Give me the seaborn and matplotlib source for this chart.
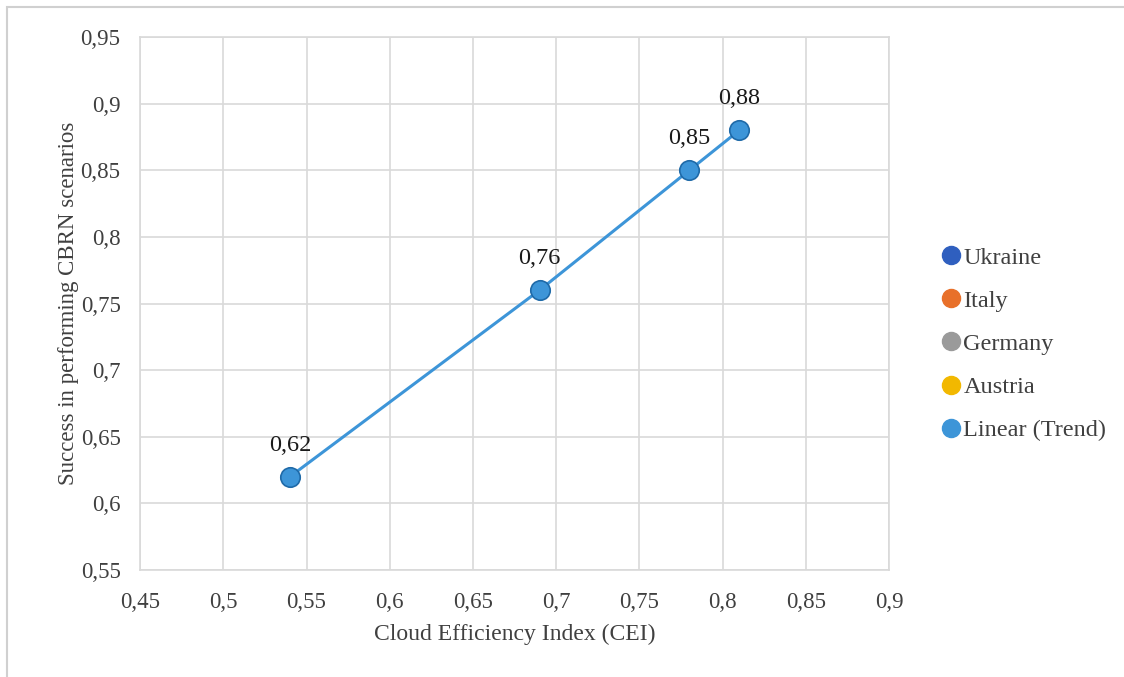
import matplotlib
matplotlib.use("Agg")
import matplotlib.pyplot as plt
import seaborn as sns
import pandas as pd
from matplotlib.lines import Line2D
from matplotlib.patches import Rectangle
from matplotlib.ticker import FuncFormatter

# Data
cei = [0.54, 0.69, 0.78, 0.81]
success = [0.62, 0.76, 0.85, 0.88]
point_labels = ["0,62", "0,76", "0,85", "0,88"]
legend_names = ["Ukraine", "Italy", "Germany", "Austria", "Linear (Trend)"]
legend_colors = ["#2f5fbf", "#e8702a", "#9a9a9a", "#f2b800", "#3d95d8"]

df = pd.DataFrame({"cei": cei, "success": success})

sns.set_style("white")
plt.rcParams["font.family"] = ["Liberation Serif", "DejaVu Serif"]

fig = plt.figure(figsize=(11.24, 6.77), dpi=100)
ax = fig.add_axes([0.1246, 0.158, 0.6664, 0.7873])

trend = "#3d95d8"
sns.lineplot(data=df, x="cei", y="success", ax=ax, color=trend, linewidth=2.2,
             marker="o", markersize=14, markeredgecolor="#1f6aa8",
             markeredgewidth=1.2, zorder=3)

# data labels above each point
for x, y, lab in zip(cei, success, point_labels):
    ax.annotate(lab, (x, y), xytext=(0, 15), textcoords="offset points",
                ha="center", va="bottom", fontsize=17.5, color="#1a1a1a")

ax.set_xlim(0.45, 0.9)
ax.set_ylim(0.55, 0.95)
ax.set_xticks([0.45, 0.5, 0.55, 0.6, 0.65, 0.7, 0.75, 0.8, 0.85, 0.9])
ax.set_yticks([0.55, 0.6, 0.65, 0.7, 0.75, 0.8, 0.85, 0.9, 0.95])
fmt = FuncFormatter(lambda v, p: ("%g" % round(v, 2)).replace(".", ","))
ax.xaxis.set_major_formatter(fmt)
ax.yaxis.set_major_formatter(fmt)
ax.tick_params(axis="x", labelsize=16.5, colors="#404040", length=0, pad=15.5)
ax.tick_params(axis="y", labelsize=16.5, colors="#404040", length=0, pad=14)
ax.grid(True, color="#d9d9d9", linewidth=1.2)
for s in ax.spines.values():
    s.set_color("#d9d9d9")
    s.set_linewidth(1.2)

ax.set_xlabel("Cloud Efficiency Index (CEI)", fontsize=17, color="#404040", labelpad=8)
ax.set_ylabel("Success in performing CBRN scenarios", fontsize=16.5, color="#404040", labelpad=1)

# legend
handles = [Line2D([0], [0], marker="o", linestyle="", markersize=13,
                  markerfacecolor=c, markeredgecolor=c, label=n)
           for n, c in zip(legend_names, legend_colors)]
fig.legend(handles=handles, loc="center left", bbox_to_anchor=(0.816, 0.492),
           frameon=False, fontsize=17.5, handlelength=1.0, handletextpad=0.0,
           labelspacing=0.87, labelcolor="#404040")

fig.patches.append(Rectangle((0.0065, -0.02), 1.1, 1.01, transform=fig.transFigure,
                             fill=False, edgecolor="#d0d0d0", linewidth=1.5))

fig.savefig("out.png", dpi=100)
